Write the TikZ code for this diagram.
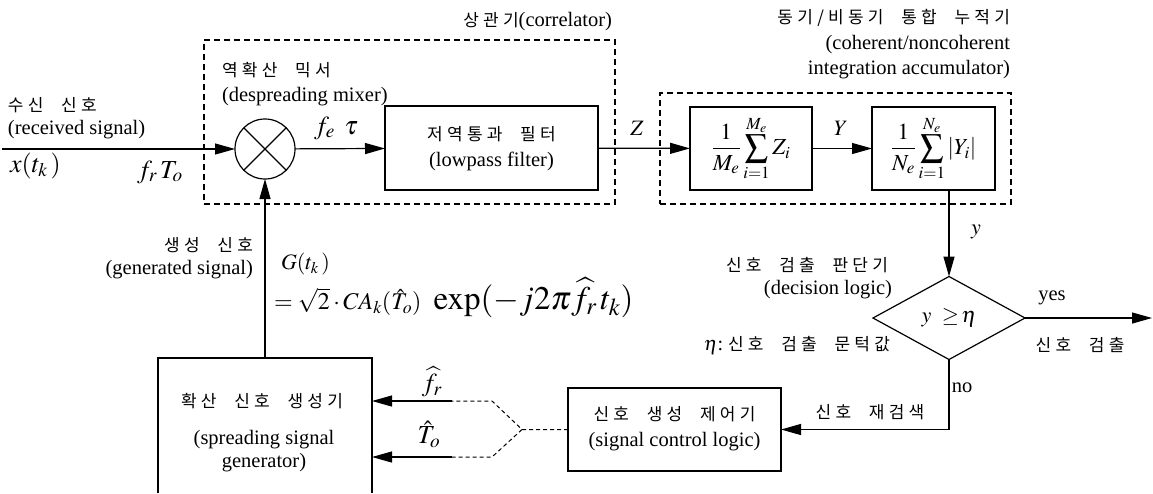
\documentclass[tikz,border=0pt]{standalone}
\usepackage{mathptmx}
\usepackage{fontspec}
\setmainfont{Liberation Serif}
\newfontfamily\kr[LetterSpace=25,WordSpace=2.2]{Noto Sans CJK KR}
\usetikzlibrary{arrows.meta,shapes.geometric}
\begin{document}
\begin{tikzpicture}[x=1pt,y=-1pt,
  every node/.style={inner sep=0pt, outer sep=0pt},
  blk/.style={draw, line width=1.2pt},
  grp/.style={draw, line width=1.8pt, dash pattern=on 6pt off 4pt},
  conn/.style={line width=1.2pt},
  thin dash/.style={line width=1pt, dash pattern=on 4pt off 3pt},
  arr/.style={conn, -{Triangle[length=20pt,width=11pt]}},
  en/.style={font=\fontsize{20.5}{23}\selectfont},
  ko/.style={font=\kr\fontsize{17}{20}\selectfont},
  mth/.style={font=\fontsize{22}{24}\selectfont},
  mthb/.style={font=\fontsize{26}{28}\selectfont},
]
\useasboundingbox (0,0) rectangle (1153,493);

% group boxes
\node[grp, minimum width=411, minimum height=164] (cor) at (409.5,122) {};
\node[grp, minimum width=351, minimum height=111] (accg) at (835.5,148.5) {};
\node[anchor=east] (corl) at (612,22) {\kr\fontsize{17}{20}\selectfont 상관기\fontsize{20.5}{23}\rmfamily(correlator)};
\node[ko, anchor=east] (accl1) at (1010,18) {동기/비동기 통합 누적기};
\node[en, anchor=east] (accl2) at (1010,45) {(coherent/noncoherent};
\node[en, anchor=east] (accl3) at (1010,70) {integration accumulator)};

% input
\node[ko, anchor=west] (rk) at (8,105) {수신 신호};
\node[en, anchor=west] (re) at (8,130) {(received signal)};
\coordinate (in) at (2,149);
\node[mthb, anchor=west] (xt) at (10,166) {$x(t_k\,)$};
\node[mthb] (frto) at (160,172) {$f_r\,T_o$};

% mixer
\node[draw, circle, minimum size=60pt, line width=1.2pt] (mix) at (265,149) {};
\draw[conn] (mix.north west) -- (mix.south east) (mix.north east) -- (mix.south west);
\node[ko, anchor=west] (mxk) at (222,70) {역확산 믹서};
\node[en, anchor=west] (mxe) at (222,97) {(despreading mixer)};
\draw[arr] (in) -- (mix);

% lowpass filter
\node[blk, minimum width=213, minimum height=84] (lpf) at (491.5,148) {};
\node[ko] (lpfk) at (491.5,134) {저역통과 필터};
\node[en] (lpfe) at (491.5,161) {(lowpass filter)};
\draw[arr] (mix) -- (lpf);
\node[mthb] (fet) at (336,128) {$f_e\ \,\tau$};

% accumulators
\node[blk, minimum width=122, minimum height=83] (acc1) at (751,148.5)
  {\fontsize{23}{25}\selectfont$\displaystyle\frac{1}{M_e}\sum_{i=1}^{M_e}Z_i$};
\node[blk, minimum width=123, minimum height=83] (acc2) at (933.5,148.5)
  {\fontsize{23}{25}\selectfont$\displaystyle\frac{1}{N_e}\sum_{i=1}^{N_e}\left|Y_i\right|$};
\draw[arr] (lpf) -- (acc1);
\node[mth] (zl) at (637,128) {$Z$};
\draw[arr] (acc1) -- (acc2);
\node[mth] (yl) at (841,128) {$Y$};

% decision
\node[draw, diamond, minimum width=152, minimum height=83, line width=1.2pt] (dec) at (949,318)
  {\fontsize{22}{24}\selectfont$y\ \geq\!\eta$};
\draw[arr] (dec.north |- acc2.south) -- (dec.north);
\node[mth] (ys) at (976,232) {$y$};
\node[ko, anchor=east] (deck) at (888,265) {신호 검출 판단기};
\node[en, anchor=east] (dece) at (892,290) {(decision logic)};
\node[anchor=east] (eta) at (890,345) {\fontsize{20}{23}\selectfont$\eta$:\ \kr\fontsize{17}{20}\selectfont 신호 검출 문턱값};
\coordinate (out) at (1152,318);
\draw[arr] (dec.east) -- (out);
\node[en] (yes) at (1052,298) {yes};
\node[ko] (det) at (1080,345) {신호 검출};

% signal control logic
\node[blk, minimum width=213, minimum height=83] (ctl) at (674.5,429.5) {};
\node[ko] (ctlk) at (674.5,414) {신호 생성 제어기};
\node[en] (ctle) at (674.5,442) {(signal control logic)};
\draw[arr] (dec.south) |- (ctl.east);
\node[en] (no) at (962,388) {no};
\node[ko] (rs) at (870,412) {신호 재검색};

% spreading signal generator (bottom edge outside the picture)
\node[minimum width=214, minimum height=135, anchor=north] (sg) at (265,358) {};
\draw[conn] (sg.south west) -- (sg.north west) -- (sg.north east) -- (sg.south east);
\node[ko] (sgk) at (262,401) {확산 신호 생성기};
\node[en] (sge1) at (264,440) {(spreading signal};
\node[en] (sge2) at (264,463) {generator)};
\draw[arr] (sg.north) -- (mix.south);

% parameter lines
\coordinate (j) at (522,429.5);
\coordinate (ja) at (492,401);
\coordinate (jb) at (492,457);
\coordinate (fr) at (452,401);
\coordinate (to) at (452,457);
\draw[thin dash] (ctl.west) -- (j) -- (ja) -- (fr);
\draw[thin dash] (j) -- (jb) -- (to);
\draw[arr] (fr) -- (sg.east |- fr);
\draw[arr] (to) -- (sg.east |- to);
\node[mthb] (frl) at (432,382) {$\widehat{f}_r$};
\node[mthb] (tol) at (429,434) {$\hat{T}_o$};

% generated signal
\node[ko, anchor=east] (gsk) at (253,245) {생성 신호};
\node[en, anchor=east] (gse) at (253,270) {(generated signal)};
\node[mth, anchor=west] (gt) at (281,264) {$G(t_k\,)$};
\node[anchor=west] (gf) at (274,298) {\fontsize{24}{26}\selectfont$=\sqrt{2}\cdot CA_k(\hat{T}_o)$\ \ \fontsize{33}{35}\selectfont$\exp(-j2\pi\widehat{f}_r\,t_k)$};
\end{tikzpicture}
\end{document}
